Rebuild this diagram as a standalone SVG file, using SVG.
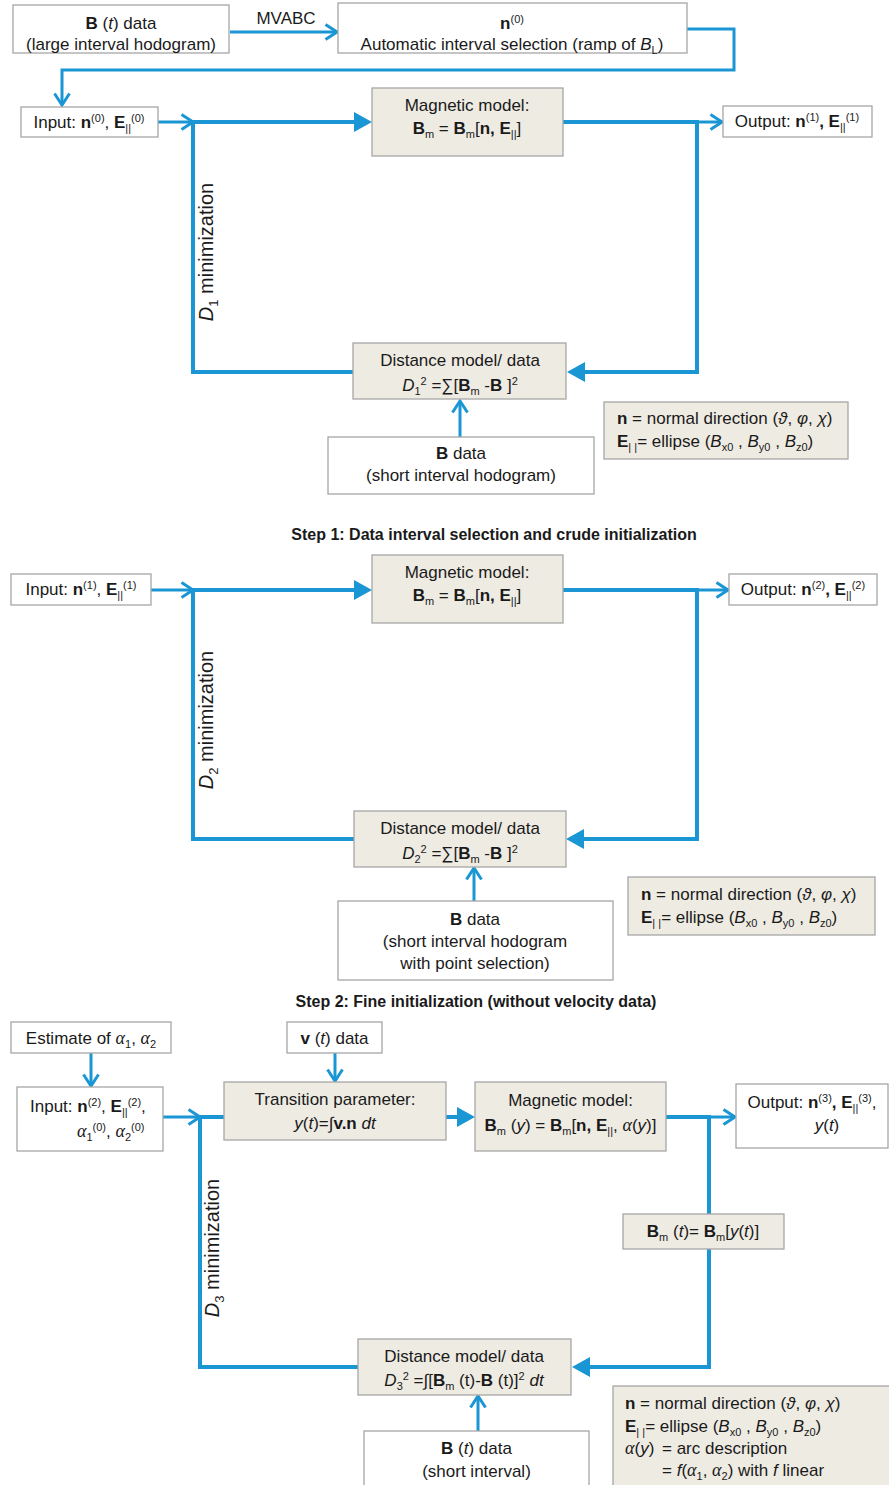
<svg xmlns="http://www.w3.org/2000/svg" width="889" height="1485" viewBox="0 0 889 1485">
<style>
.w{fill:#ffffff;stroke:#a6a6a6;stroke-width:1.3}
.s{fill:#eeebe3;stroke:#a6a6a6;stroke-width:1.3}
.t{font-family:"Liberation Sans",Arial,sans-serif;font-size:17px;fill:#1a1a1a}
.m{text-anchor:middle}
.b{font-weight:bold}
.i{font-style:italic}
.g{font-family:"Liberation Serif","Times New Roman",serif;font-style:italic;font-size:18px}
.sp{font-size:11px;baseline-shift:6px}
.sb{font-size:11px;baseline-shift:-4px}
.cap{font-family:"Liberation Sans",Arial,sans-serif;font-size:16px;font-weight:bold;fill:#1a1a1a;text-anchor:middle}
.vt{font-family:"Liberation Sans",Arial,sans-serif;font-size:20px;fill:#1a1a1a;text-anchor:middle}
.vs{font-size:13px;baseline-shift:-5px}
.k{fill:none;stroke:#1a96d4;stroke-width:4}
.n{fill:none;stroke:#1a96d4;stroke-width:3}
</style>
<defs>
<marker id="op" viewBox="0 0 15 18" refX="13" refY="9" markerWidth="15" markerHeight="18" orient="auto" markerUnits="userSpaceOnUse">
<path d="M1.5,1.5 L13,9 L1.5,16.5" fill="none" stroke="#1a96d4" stroke-width="3"/>
</marker>
<marker id="fl" viewBox="0 0 18 20" refX="0" refY="10" markerWidth="18" markerHeight="20" orient="auto" markerUnits="userSpaceOnUse">
<path d="M0,0 L18,10 L0,20 z" fill="#1a96d4"/>
</marker>
</defs>

<g id="connectors">
<!-- step 1 -->
<line class="n" x1="230" y1="32" x2="337" y2="32" marker-end="url(#op)"/>
<path class="n" d="M687,29 H734 V70 H62 V105" marker-end="url(#op)"/>
<line class="n" x1="158" y1="122" x2="193" y2="122" marker-end="url(#op)"/>
<line class="k" x1="193" y1="122" x2="354" y2="122" marker-end="url(#fl)"/>
<line class="k" x1="563" y1="122" x2="697" y2="122"/>
<line class="n" x1="697" y1="122" x2="722" y2="122" marker-end="url(#op)"/>
<path class="k" d="M697,120 V372 H585" marker-end="url(#fl)"/>
<path class="k" d="M353,372 H193 V120"/>
<line class="n" x1="460" y1="437" x2="460" y2="401" marker-end="url(#op)"/>
<!-- step 2 -->
<line class="n" x1="151" y1="590" x2="193" y2="590" marker-end="url(#op)"/>
<line class="k" x1="193" y1="590" x2="354" y2="590" marker-end="url(#fl)"/>
<line class="k" x1="563" y1="590" x2="697" y2="590"/>
<line class="n" x1="697" y1="590" x2="728" y2="590" marker-end="url(#op)"/>
<path class="k" d="M697,588 V839 H584" marker-end="url(#fl)"/>
<path class="k" d="M354,839 H193 V588"/>
<line class="n" x1="474" y1="901" x2="474" y2="868" marker-end="url(#op)"/>
<!-- step 3 -->
<line class="n" x1="91" y1="1053" x2="91" y2="1086" marker-end="url(#op)"/>
<line class="n" x1="335" y1="1053" x2="335" y2="1081" marker-end="url(#op)"/>
<line class="n" x1="163" y1="1117" x2="200" y2="1117" marker-end="url(#op)"/>
<line class="k" x1="200" y1="1117" x2="224" y2="1117"/>
<line class="k" x1="446" y1="1117" x2="457" y2="1117" marker-end="url(#fl)"/>
<line class="k" x1="666" y1="1117" x2="709" y2="1117"/>
<line class="n" x1="709" y1="1117" x2="735" y2="1117" marker-end="url(#op)"/>
<path class="k" d="M709,1115 V1214"/>
<path class="k" d="M709,1249 V1367 H590" marker-end="url(#fl)"/>
<path class="k" d="M358,1367 H200 V1115"/>
<line class="n" x1="478" y1="1431" x2="478" y2="1396" marker-end="url(#op)"/>
</g>

<!-- ===== Step 1 ===== -->
<g id="bt-large">
<rect class="w" x="13" y="5" width="216" height="48"/>
<text class="t m" x="121" y="29"><tspan class="b">B</tspan> (<tspan class="i">t</tspan>) data</text>
<text class="t m" x="121" y="50">(large interval hodogram)</text>
</g>
<text id="mvabc" class="t m" x="286" y="24">MVABC</text>
<g id="n0-auto">
<rect class="w" x="338" y="3" width="349" height="50"/>
<text class="t m" x="512" y="29"><tspan class="b">n</tspan><tspan class="sp">(0)</tspan></text>
<text class="t m" x="512" y="50">Automatic interval selection (ramp of <tspan class="i">B</tspan><tspan class="sb">L</tspan>)</text>
</g>
<g id="input1">
<rect class="w" x="21" y="107" width="137" height="30"/>
<text class="t m" x="89" y="128">Input: <tspan class="b">n</tspan><tspan class="sp">(0)</tspan>, <tspan class="b">E</tspan><tspan class="sb">||</tspan><tspan class="sp">(0)</tspan></text>
</g>
<g id="model1">
<rect class="s" x="372" y="88" width="191" height="68"/>
<text class="t m" x="467" y="111">Magnetic model:</text>
<text class="t m" x="467" y="134"><tspan class="b">B</tspan><tspan class="sb">m</tspan> = <tspan class="b">B</tspan><tspan class="sb">m</tspan>[<tspan class="b">n, E</tspan><tspan class="sb">||</tspan>]</text>
</g>
<g id="output1">
<rect class="w" x="723" y="106" width="149" height="31"/>
<text class="t m" x="797" y="127">Output: <tspan class="b">n</tspan><tspan class="sp">(1)</tspan><tspan class="b">, E</tspan><tspan class="sb">||</tspan><tspan class="sp">(1)</tspan></text>
</g>
<g id="distance1">
<rect class="s" x="353" y="343" width="213" height="56"/>
<text class="t m" x="460" y="366">Distance model/ data</text>
<text class="t m" x="460" y="391"><tspan class="i">D</tspan><tspan class="sb">1</tspan><tspan class="sp">2</tspan> =∑[<tspan class="b">B</tspan><tspan class="sb">m</tspan> -<tspan class="b">B</tspan> ]<tspan class="sp">2</tspan></text>
</g>
<g id="bdata1">
<rect class="w" x="328" y="437" width="266" height="57"/>
<text class="t m" x="461" y="459"><tspan class="b">B</tspan> data</text>
<text class="t m" x="461" y="481">(short interval hodogram)</text>
</g>
<g id="legend1">
<rect class="s" x="604" y="402" width="244" height="57"/>
<text class="t" x="617" y="424"><tspan class="b">n</tspan> = normal direction (<tspan class="i">ϑ</tspan>, <tspan class="i">φ</tspan>, <tspan class="i">χ</tspan>)</text>
<text class="t" x="617" y="447"><tspan class="b">E</tspan><tspan class="sb">| |</tspan>= ellipse (<tspan class="i">B</tspan><tspan class="sb">x0</tspan> , <tspan class="i">B</tspan><tspan class="sb">y0</tspan> , <tspan class="i">B</tspan><tspan class="sb">z0</tspan>)</text>
</g>
<text id="label-d1" class="vt" transform="translate(213,252) rotate(-90)"><tspan class="i">D</tspan><tspan class="vs">1</tspan> minimization</text>
<text id="caption1" class="cap" x="494" y="540">Step 1: Data interval selection and crude initialization</text>

<!-- ===== Step 2 ===== -->
<g id="input2">
<rect class="w" x="11" y="574" width="140" height="31"/>
<text class="t m" x="81" y="595">Input: <tspan class="b">n</tspan><tspan class="sp">(1)</tspan>, <tspan class="b">E</tspan><tspan class="sb">||</tspan><tspan class="sp">(1)</tspan></text>
</g>
<g id="model2">
<rect class="s" x="372" y="555" width="191" height="68"/>
<text class="t m" x="467" y="578">Magnetic model:</text>
<text class="t m" x="467" y="601"><tspan class="b">B</tspan><tspan class="sb">m</tspan> = <tspan class="b">B</tspan><tspan class="sb">m</tspan>[<tspan class="b">n, E</tspan><tspan class="sb">||</tspan>]</text>
</g>
<g id="output2">
<rect class="w" x="729" y="574" width="148" height="31"/>
<text class="t m" x="803" y="595">Output: <tspan class="b">n</tspan><tspan class="sp">(2)</tspan><tspan class="b">, E</tspan><tspan class="sb">||</tspan><tspan class="sp">(2)</tspan></text>
</g>
<g id="distance2">
<rect class="s" x="354" y="811" width="212" height="56"/>
<text class="t m" x="460" y="834">Distance model/ data</text>
<text class="t m" x="460" y="859"><tspan class="i">D</tspan><tspan class="sb">2</tspan><tspan class="sp">2</tspan> =∑[<tspan class="b">B</tspan><tspan class="sb">m</tspan> -<tspan class="b">B</tspan> ]<tspan class="sp">2</tspan></text>
</g>
<g id="bdata2">
<rect class="w" x="338" y="901" width="275" height="79"/>
<text class="t m" x="475" y="925"><tspan class="b">B</tspan>  data</text>
<text class="t m" x="475" y="947">(short interval hodogram</text>
<text class="t m" x="475" y="969">with point selection)</text>
</g>
<g id="legend2">
<rect class="s" x="628" y="877" width="247" height="58"/>
<text class="t" x="641" y="900"><tspan class="b">n</tspan> = normal direction (<tspan class="i">ϑ</tspan>, <tspan class="i">φ</tspan>, <tspan class="i">χ</tspan>)</text>
<text class="t" x="641" y="923"><tspan class="b">E</tspan><tspan class="sb">| |</tspan>= ellipse (<tspan class="i">B</tspan><tspan class="sb">x0</tspan> , <tspan class="i">B</tspan><tspan class="sb">y0</tspan> , <tspan class="i">B</tspan><tspan class="sb">z0</tspan>)</text>
</g>
<text id="label-d2" class="vt" transform="translate(213,720) rotate(-90)"><tspan class="i">D</tspan><tspan class="vs">2</tspan> minimization</text>
<text id="caption2" class="cap" x="476" y="1007">Step 2: Fine initialization (without velocity data)</text>

<!-- ===== Step 3 ===== -->
<g id="estimate">
<rect class="w" x="11" y="1022" width="160" height="31"/>
<text class="t m" x="91" y="1044">Estimate of <tspan class="g">α</tspan><tspan class="sb">1</tspan>, <tspan class="g">α</tspan><tspan class="sb">2</tspan></text>
</g>
<g id="vdata">
<rect class="w" x="287" y="1022" width="95" height="31"/>
<text class="t m" x="334.5" y="1044"><tspan class="b">v</tspan> (<tspan class="i">t</tspan>) data</text>
</g>
<g id="input3">
<rect class="w" x="17" y="1087" width="146" height="64"/>
<text class="t" x="30" y="1112">Input: <tspan class="b">n</tspan><tspan class="sp">(2)</tspan>, <tspan class="b">E</tspan><tspan class="sb">||</tspan><tspan class="sp">(2)</tspan>,</text>
<text class="t" x="77" y="1137"><tspan class="g">α</tspan><tspan class="sb">1</tspan><tspan class="sp">(0)</tspan>, <tspan class="g">α</tspan><tspan class="sb">2</tspan><tspan class="sp">(0)</tspan></text>
</g>
<g id="transition">
<rect class="s" x="224" y="1082" width="222" height="58"/>
<text class="t m" x="335" y="1105">Transition parameter:</text>
<text class="t m" x="335" y="1129"><tspan class="i">y</tspan>(<tspan class="i">t</tspan>)=∫<tspan class="b">v.n</tspan> <tspan class="i">dt</tspan></text>
</g>
<g id="model3">
<rect class="s" x="475" y="1082" width="191" height="69"/>
<text class="t m" x="570.5" y="1106">Magnetic model:</text>
<text class="t m" x="570.5" y="1131"><tspan class="b">B</tspan><tspan class="sb">m</tspan> (<tspan class="i">y</tspan>) = <tspan class="b">B</tspan><tspan class="sb">m</tspan>[<tspan class="b">n, E</tspan><tspan class="sb">||</tspan>, <tspan class="g">α</tspan>(<tspan class="i">y</tspan>)]</text>
</g>
<g id="output3">
<rect class="w" x="736" y="1084" width="152" height="64"/>
<text class="t m" x="812" y="1108">Output: <tspan class="b">n</tspan><tspan class="sp">(3)</tspan><tspan class="b">, E</tspan><tspan class="sb">||</tspan><tspan class="sp">(3)</tspan>,</text>
<text class="t m" x="827" y="1131"><tspan class="i">y</tspan>(<tspan class="i">t</tspan>)</text>
</g>
<g id="bmt">
<rect class="s" x="623" y="1214" width="161" height="35"/>
<text class="t m" x="703" y="1237"><tspan class="b">B</tspan><tspan class="sb">m</tspan> (<tspan class="i">t</tspan>)= <tspan class="b">B</tspan><tspan class="sb">m</tspan>[<tspan class="i">y</tspan>(<tspan class="i">t</tspan>)]</text>
</g>
<g id="distance3">
<rect class="s" x="358" y="1339" width="213" height="56"/>
<text class="t m" x="464" y="1362">Distance model/ data</text>
<text class="t m" x="464" y="1386"><tspan class="i">D</tspan><tspan class="sb">3</tspan><tspan class="sp">2</tspan> =∫[<tspan class="b">B</tspan><tspan class="sb">m</tspan> (t)-<tspan class="b">B</tspan> (t)]<tspan class="sp">2</tspan> <tspan class="i">dt</tspan></text>
</g>
<g id="bdata3">
<rect class="w" x="364" y="1431" width="225" height="62"/>
<text class="t m" x="476.5" y="1454"><tspan class="b">B</tspan> (<tspan class="i">t</tspan>) data</text>
<text class="t m" x="476.5" y="1477">(short interval)</text>
</g>
<g id="legend3">
<rect class="s" x="613" y="1386" width="280" height="106"/>
<text class="t" x="625" y="1409"><tspan class="b">n</tspan> = normal direction (<tspan class="i">ϑ</tspan>, <tspan class="i">φ</tspan>, <tspan class="i">χ</tspan>)</text>
<text class="t" x="625" y="1432"><tspan class="b">E</tspan><tspan class="sb">| |</tspan>= ellipse (<tspan class="i">B</tspan><tspan class="sb">x0</tspan> , <tspan class="i">B</tspan><tspan class="sb">y0</tspan> , <tspan class="i">B</tspan><tspan class="sb">z0</tspan>)</text>
<text class="t" x="625" y="1454"><tspan class="g">α</tspan>(<tspan class="i">y</tspan>)</text>
<text class="t" x="662" y="1454">= arc description</text>
<text class="t" x="662" y="1476">= <tspan class="i">f</tspan>(<tspan class="g">α</tspan><tspan class="sb">1</tspan>, <tspan class="g">α</tspan><tspan class="sb">2</tspan>) with <tspan class="i">f</tspan> linear</text>
</g>
<text id="label-d3" class="vt" transform="translate(219,1248) rotate(-90)"><tspan class="i">D</tspan><tspan class="vs">3</tspan> minimization</text>
</svg>
